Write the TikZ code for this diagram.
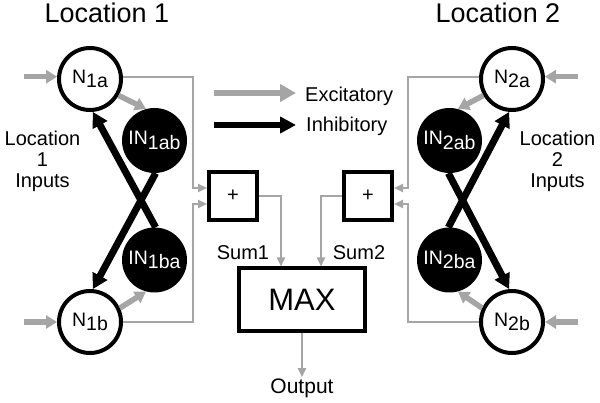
\documentclass[tikz,border=0pt]{standalone}
\usepackage{fontspec}
\setmainfont{Liberation Sans}
\usetikzlibrary{arrows.meta,calc}
\definecolor{lgray}{RGB}{165,165,165}
\begin{document}
\begin{tikzpicture}[x=1pt,y=-1pt,
  neuron/.style={circle,draw=black,line width=4pt,fill=white,minimum size=62pt,inner sep=0pt,font=\fontsize{19.5}{19.5}\selectfont},
  inter/.style={circle,fill=black,minimum size=65pt,inner sep=0pt,text=white,font=\fontsize{19.5}{19.5}\selectfont},
  sumbox/.style={draw=black,line width=4pt,minimum size=48pt,inner sep=0pt,font=\fontsize{20}{20}\selectfont},
  maxbox/.style={draw=black,line width=4pt,minimum width=126pt,minimum height=63pt,inner sep=0pt,font=\fontsize{31}{31}\selectfont},
  conn/.style={draw=lgray,line width=2.2pt,-{Triangle[length=9pt,width=8pt]}},
  exc/.style={draw=lgray,line width=5.5pt,-{Triangle[length=11pt,width=13pt]}},
  inh/.style={draw=black,line width=7pt,-{Triangle[length=15pt,width=16pt]}},
  legexc/.style={draw=lgray,line width=6.5pt,-{Triangle[length=16pt,width=17pt]}},
  leginh/.style={draw=black,line width=6.5pt,-{Triangle[length=16pt,width=16pt]}},
  lbl/.style={font=\fontsize{20}{21}\selectfont,inner sep=0pt},
  ttl/.style={font=\fontsize{27}{27}\selectfont,inner sep=0pt}
]
\newcommand{\sbx}[1]{\raisebox{-4.5pt}{#1}}
\fill[white] (0,0) rectangle (600,403);
\useasboundingbox (0,0) rectangle (600,403);

% titles
\node[ttl,anchor=base] (t1) at (107,23) {Location 1};
\node[ttl,anchor=base] (t2) at (498,23) {Location 2};

% side labels
\node[lbl,align=center,anchor=base] (s1) at (42.5,188) {Location\\1\\Inputs};
\node[lbl,align=center,anchor=base] (s2) at (557.5,188) {Location\\2\\Inputs};

% neurons
\node[neuron] (N1a) at (90,79) {N\sbx{1a}};
\node[neuron] (N1b) at (90,322) {N\sbx{1b}};
\node[neuron] (N2a) at (512,79) {N\sbx{2a}};
\node[neuron] (N2b) at (512,322) {N\sbx{2b}};
\node[inter] (IN1ab) at (154.5,140.5) {IN\sbx{1ab}};
\node[inter] (IN1ba) at (154.5,260) {IN\sbx{1ba}};
\node[inter] (IN2ab) at (449.5,140.5) {IN\sbx{2ab}};
\node[inter] (IN2ba) at (449.5,260) {IN\sbx{2ba}};

% boxes
\node[sumbox] (P1) at (233,196) {+};
\node[sumbox] (P2) at (368,196) {+};
\node[maxbox] (MAX) at (302,300) {MAX};
\node[font=\fontsize{21}{21}\selectfont,anchor=base,inner sep=1pt] (out) at (302,393) {Output};
\node[lbl,anchor=base] (sum1) at (243,260) {Sum1};
\node[lbl,anchor=base] (sum2) at (359,260) {Sum2};

% legend
\coordinate (le1) at (214,93);
\coordinate (le2) at (296,93);
\coordinate (li1) at (214,125);
\coordinate (li2) at (296,125);
\draw[legexc] (le1) -- (le2);
\draw[leginh] (li1) -- (li2);
\node[lbl,anchor=base west] (lex) at (305,102) {Excitatory};
\node[lbl,anchor=base west] (lin) at (306,131.5) {Inhibitory};

% external inputs
\coordinate (i1a) at ($(N1a.176)+(-33,0)$);
\coordinate (i1b) at ($(N1b.west)+(-33,0)$);
\coordinate (i2a) at ($(N2a.4)+(33,0)$);
\coordinate (i2b) at ($(N2b.east)+(33,0)$);
\draw[exc] (i1a) -- (N1a.176);
\draw[exc] (i1b) -- (N1b.west);
\draw[exc] (i2a) -- (N2a.4);
\draw[exc] (i2b) -- (N2b.east);

% excitatory to interneurons
\draw[exc] (N1a.-30) -- (IN1ab.105);
\draw[exc] (N1b.25) -- (IN1ba.-105);
\draw[exc] (N2a.-150) -- (IN2ab.75);
\draw[exc] (N2b.155) -- (IN2ba.-75);

% inhibitory crossing
\draw[inh] (IN1ab.-88) -- (N1b.85);
\draw[inh] (IN1ba.88) -- (N1a.-85);
\draw[inh] (IN2ab.-92) -- (N2b.95);
\draw[inh] (IN2ba.92) -- (N2a.-95);

% connectors to sum boxes
\draw[conn] (N1a.4) -| ([xshift=-14pt,yshift=8pt]P1.west) -- ([yshift=8pt]P1.west);
\draw[conn] (N1b.east) -| ([xshift=-14pt,yshift=-8pt]P1.west) -- ([yshift=-8pt]P1.west);
\draw[conn] (N2a.176) -| ([xshift=14pt,yshift=8pt]P2.east) -- ([yshift=8pt]P2.east);
\draw[conn] (N2b.west) -| ([xshift=14pt,yshift=-8pt]P2.east) -- ([yshift=-8pt]P2.east);

% sums to max
\draw[conn] (P1.east) -| ([xshift=-21pt]MAX.north);
\draw[conn] (P2.west) -| ([xshift=19pt]MAX.north);
\draw[conn] (MAX.south) -- (out.north);
\end{tikzpicture}
\end{document}
